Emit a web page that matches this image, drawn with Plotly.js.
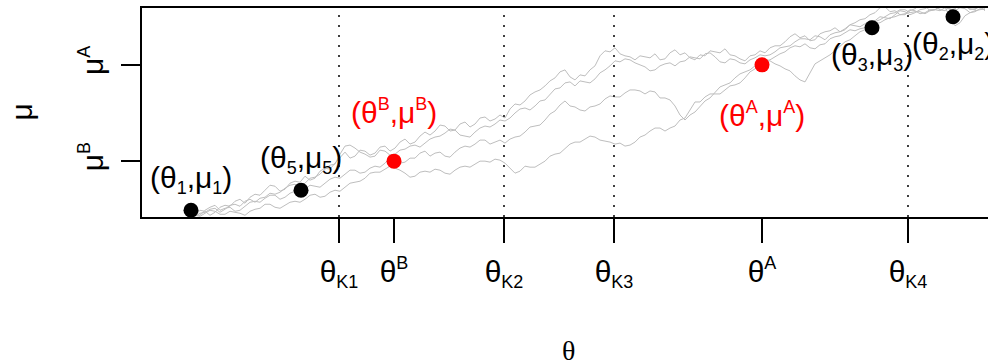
<!DOCTYPE html>
<html>
<head>
<meta charset="utf-8">
<script src="https://cdn.plot.ly/plotly-3.0.1.min.js"></script>
<style>
html, body { margin: 0; padding: 0; overflow: hidden; background: #fff; }
#chart { width: 1000px; height: 364px; }
</style>
</head>
<body>
<div id="chart"></div>
<script>
// ---- data ----
const theta = [50,55,60,65,70,75,80,85,90,95,100,105,110,115,120,125,130,135,140,145,
  150,155,160,165,170,175,180,185,190,195,200,205,210,215,220,225,230,235,240,245,
  250,255,260,265,270,275,280,285,290,295,300,305,310,315,320,325,330,335,340,345,
  350,355,360,365,370,375,380,385,390,395,400,405,410,415,420,425,430,435,440,445,
  450,455,460,465,470,475,480,485,490,495,500,505,510,515,520,525,530,535,540,545,
  550,555,560,565,570,575,580,585,590,595,600,605,610,615,620,625,630,635,640,645,
  650,655,660,665,670,675,680,685,690,695,700,705,710,715,720,725,730,735,740,745,
  750,755,760,765,770,775,780,785,790,795,800,805,810,815,820,825,830,835,840];

const pathA = [1,6,5,1,4,9,11,10,15,17,13,19,22,21,26,31,30,25,27,33,
  35,34,40,36,38,45,48,47,53,59,64,58,60,66,65,61,63,69,70,65,
  68,74,77,72,74,80,84,81,85,91,90,85,86,92,94,89,92,98,99,95,
  97,101,98,107,112,111,115,121,124,126,130,135,138,144,146,139,136,141,140,146,
  150,160,165,164,168,162,160,159,156,160,159,158,162,156,157,163,166,161,163,158,
  156,161,160,165,164,163,167,161,160,157,155,160,161,165,163,168,170,170,174,179,
  182,178,180,175,176,182,184,185,188,184,186,191,193,196,197,201,203,208,209,204,
  205,201,201,205,207,211,210,205,206,210,209,206,207,211,210,207,206,210,209];
const pathB = [0,3,4,7,8,4,7,11,12,10,15,17,14,18,19,23,22,24,28,31,
  32,29,33,38,39,42,47,51,52,62,70,71,68,64,62,59,60,66,65,61,
  62,66,67,70,71,69,73,77,79,80,83,87,86,81,80,79,84,88,90,89,
  92,96,95,98,103,107,108,106,110,115,116,121,127,128,133,134,130,135,134,133,
  137,143,146,150,155,154,157,156,153,151,149,145,146,150,152,153,150,154,155,159,
  158,157,162,163,159,154,153,157,156,153,152,156,158,161,160,161,164,168,169,170,
  174,177,177,176,180,179,176,181,183,184,187,191,190,189,192,195,195,199,198,197,
  201,205,204,201,203,206,207,210,209,206,205,209,208,211,210,206,207,209,205];
const pathC = [2,1,6,9,11,6,8,9,5,6,10,14,15,14,18,21,21,17,19,23,
  25,24,27,31,30,29,33,37,39,38,42,46,46,43,44,48,50,49,53,58,
  57,53,54,58,58,63,65,60,63,64,60,59,64,68,70,69,72,76,76,72,
  74,76,73,77,79,80,84,89,90,91,96,102,105,111,115,110,109,106,105,109,
  110,112,117,120,119,119,123,126,126,125,122,125,124,118,118,116,110,101,96,101,
  104,110,115,118,124,129,131,133,138,142,144,146,150,154,155,156,159,162,164,168,
  170,169,172,168,167,171,172,177,179,180,183,186,185,187,188,191,192,193,196,198,
  199,201,202,206,205,202,203,206,206,205,208,207,205,208,207,203,204,207,206];
const pathD = [1,0,3,6,5,2,2,5,4,3,1,5,7,8,12,12,9,8,11,14,
  15,14,17,21,22,19,20,24,26,25,29,33,34,35,38,43,44,44,47,50,
  48,46,43,39,40,44,45,44,47,46,43,42,46,49,50,49,52,55,55,54,
  57,56,53,48,43,45,50,49,49,52,55,60,62,63,68,72,74,74,77,80,
  79,76,75,74,72,73,70,71,74,79,81,85,88,88,85,88,90,96,98,106,
  114,114,119,122,122,122,126,130,131,133,138,144,147,150,155,155,152,150,147,145,
  140,136,134,143,152,155,158,161,165,170,174,176,180,184,186,191,194,196,199,202,
  203,206,206,203,204,204,202,205,206,208,209,198,190,193,200,203,205,206,207];

const blackTheta = [46, 156, 727, 808];
const blackMu = [6, 26, 188, 199];
const blackSub = ['1', '5', '3', '2'];
const blackAbove = [true, true, false, false];

const redTheta = [249, 617];
const redMu = [55, 151];
const redSup = ['B', 'A'];
const redAbove = [true, false];

const knotTheta = [194, 359, 469, 763];
const knotNames = ['K1', 'K2', 'K3', 'K4'];
const yTickVals = [55, 151];
const yTickSup = ['B', 'A'];

// ---- helpers for text ----
const SMALL = 18;
const sub = s => '<sub><span style="font-size:' + SMALL + 'px">' + s + '</span></sub>';
const sup = s => '<sup><span style="font-size:' + SMALL + 'px">' + s + '</span></sup>';

const xTickVals = knotTheta.concat(redTheta);
const xTickText = knotNames.map(k => 'θ' + sub(k)).concat(redSup.map(s => 'θ' + sup(s)));
const yTickText = yTickSup.map(s => 'μ' + sup(s));

// ---- traces ----
const FONT = '"Liberation Sans", Arial, Helvetica, sans-serif';
const BIG = 30;
const grayLine = {color: '#bebebe', width: 1};
const traces = [pathA, pathB, pathC, pathD].map(p => ({
  type: 'scatter', mode: 'lines', x: theta, y: p, line: grayLine, hoverinfo: 'skip'
}));
traces.push({type: 'scatter', mode: 'markers', x: blackTheta, y: blackMu,
  marker: {color: '#000', size: 15}, cliponaxis: false});
traces.push({type: 'scatter', mode: 'markers', x: redTheta, y: redMu,
  marker: {color: '#ff0000', size: 15}, cliponaxis: false});

const shapes = knotTheta.map(k => ({
  type: 'line', xref: 'x', yref: 'paper', x0: k, x1: k, y0: 0, y1: 1,
  line: {color: '#000', width: 1.5, dash: '2px,8px'}, layer: 'above'
}));

const annotations = [];
blackTheta.forEach((t, i) => annotations.push({
  x: t, y: blackMu[i], xref: 'x', yref: 'y',
  text: '(θ' + sub(blackSub[i]) + ',μ' + sub(blackSub[i]) + ')', showarrow: false,
  xanchor: 'center', yanchor: 'middle', yshift: blackAbove[i] ? 31 : -29,
  font: {family: FONT, size: BIG, color: '#000'}
}));
redTheta.forEach((t, i) => annotations.push({
  x: t, y: redMu[i], xref: 'x', yref: 'y',
  text: '(θ' + sup(redSup[i]) + ',μ' + sup(redSup[i]) + ')', showarrow: false,
  xanchor: 'center', yanchor: 'middle', yshift: redAbove[i] ? 50 : -50,
  font: {family: FONT, size: BIG, color: '#ff0000'}
}));
annotations.push({x: 0.5, y: 0, xref: 'paper', yref: 'paper', text: 'θ', showarrow: false,
  xanchor: 'center', yanchor: 'middle', yshift: -133,
  font: {family: '"Liberation Serif", "Times New Roman", serif', size: 28, color: '#000'}});
annotations.push({x: 0, y: 0.5, xref: 'paper', yref: 'paper', text: 'μ', showarrow: false,
  xanchor: 'center', yanchor: 'middle', xshift: -121, textangle: -90,
  font: {family: FONT, size: BIG, color: '#000'}});

const layout = {
  width: 1000, height: 364,
  margin: {l: 142, r: 5, t: 8, b: 147},
  paper_bgcolor: '#fff', plot_bgcolor: '#fff',
  showlegend: false,
  font: {family: FONT, size: BIG, color: '#000'},
  xaxis: {
    range: [-3, 850], showgrid: false, zeroline: false,
    showline: true, mirror: true, linecolor: '#000', linewidth: 2,
    ticks: 'outside', ticklen: 24, tickwidth: 1.5, tickcolor: '#000',
    tickmode: 'array', tickvals: xTickVals, ticktext: xTickText,
    ticklabelstandoff: 3,
    tickfont: {family: FONT, size: BIG, color: '#000'}
  },
  yaxis: {
    range: [-0.7, 207.7], showgrid: false, zeroline: false,
    showline: true, mirror: true, linecolor: '#000', linewidth: 2,
    ticks: 'outside', ticklen: 19, tickwidth: 1.5, tickcolor: '#000',
    tickmode: 'array', tickvals: yTickVals, ticktext: yTickText, tickangle: -90,
    ticklabelstandoff: 6,
    tickfont: {family: FONT, size: BIG, color: '#000'}
  },
  shapes: shapes,
  annotations: annotations
};

Plotly.newPlot('chart', traces, layout, {staticPlot: true, displayModeBar: false});
</script>
</body>
</html>
